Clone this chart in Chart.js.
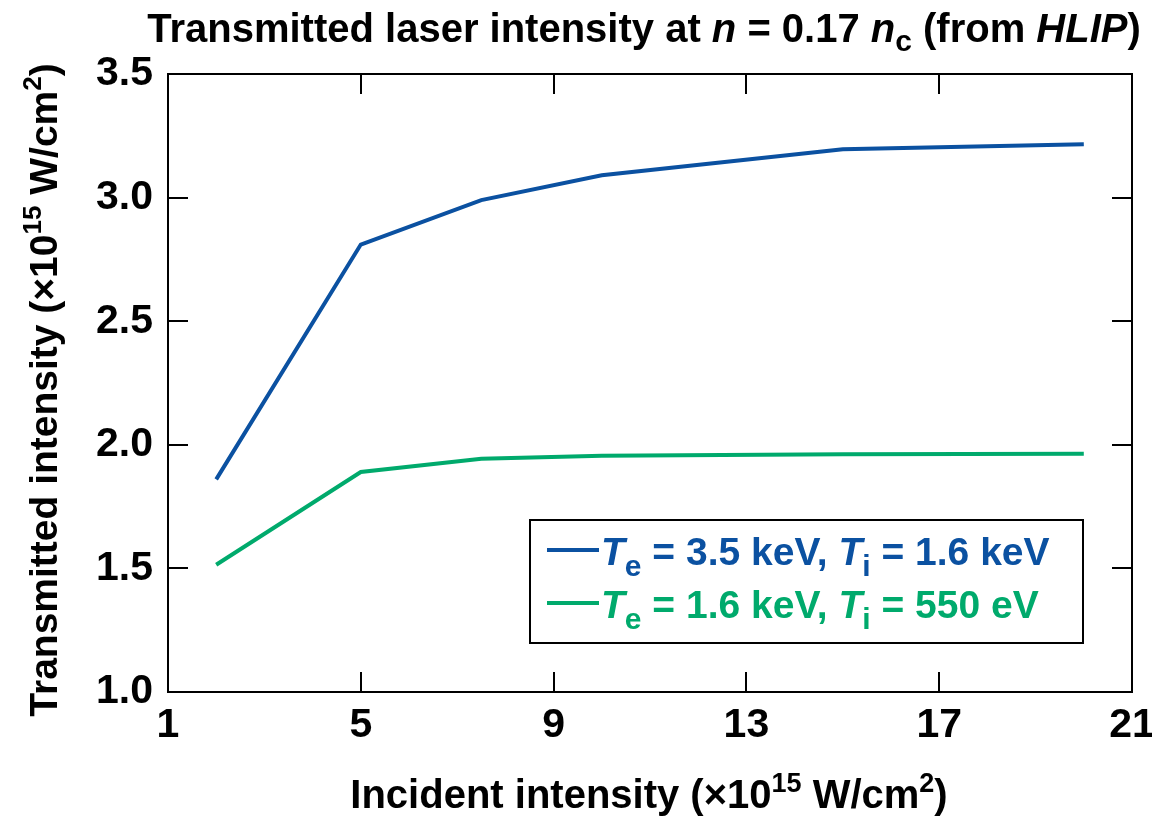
<!DOCTYPE html>
<html>
<head>
<meta charset="utf-8">
<script src="https://cdn.jsdelivr.net/npm/chart.js@4"></script>
<style>
  html, body { margin: 0; padding: 0; background: #fff; }
  #wrap { width: 1152px; height: 816px; }
</style>
</head>
<body>
<div id="wrap"><canvas id="plot"></canvas></div>
<script>
// values
const incident = [2, 5, 7.5, 10, 15, 20];
const hotPlasma = [1.86, 2.81, 2.99, 3.09, 3.196, 3.216];
const coolPlasma = [1.515, 1.89, 1.944, 1.956, 1.962, 1.964];
const xTicks = [1, 5, 9, 13, 17, 21];
const yTicks = [1.0, 1.5, 2.0, 2.5, 3.0, 3.5];

const BLUE = '#0b51a1';
const GREEN = '#00aa6c';
const FONT = '"Liberation Sans", Arial, sans-serif';

// draw a line of mixed text (italic / sub / superscript pieces)
function drawRuns(ctx, runs, x, y, align) {
    let total = 0;
    runs.forEach(r => {
        ctx.font = (r.i ? 'italic ' : '') + 'bold ' + r.s + 'px ' + FONT;
        r.w = ctx.measureText(r.t).width;
        total += r.w;
    });
    let cx = align === 'center' ? x - total / 2 : x;
    ctx.textAlign = 'left';
    ctx.textBaseline = 'alphabetic';
    runs.forEach(r => {
        ctx.font = (r.i ? 'italic ' : '') + 'bold ' + r.s + 'px ' + FONT;
        ctx.fillStyle = r.c || '#000';
        ctx.fillText(r.t, cx, y + (r.dy || 0));
        cx += r.w;
    });
}

const decor = {
    id: 'decor',
    afterDraw(chart) {
        const ctx = chart.ctx;
        const a = chart.chartArea;
        const xs = chart.scales.x, ys = chart.scales.y;
        ctx.save();

        // frame
        ctx.strokeStyle = '#000';
        ctx.lineWidth = 2;
        ctx.strokeRect(a.left, a.top, a.right - a.left, a.bottom - a.top);

        // inward ticks on all four sides
        const tl = 20;
        ctx.beginPath();
        xTicks.slice(1, -1).forEach(v => {
            const px = Math.round(xs.getPixelForValue(v));
            ctx.moveTo(px, a.bottom); ctx.lineTo(px, a.bottom - tl);
            ctx.moveTo(px, a.top); ctx.lineTo(px, a.top + tl);
        });
        yTicks.slice(1, -1).forEach(v => {
            const py = Math.round(ys.getPixelForValue(v));
            ctx.moveTo(a.left, py); ctx.lineTo(a.left + tl, py);
            ctx.moveTo(a.right, py); ctx.lineTo(a.right - tl, py);
        });
        ctx.stroke();

        // title
        const ts = 40;
        drawRuns(ctx, [
            {t: 'Transmitted laser intensity at ', s: ts},
            {t: 'n', s: ts, i: true},
            {t: ' = 0.17 ', s: ts},
            {t: 'n', s: ts, i: true},
            {t: 'c', s: 30, dy: 9},
            {t: ' (from ', s: ts},
            {t: 'HLIP', s: ts, i: true},
            {t: ')', s: ts}
        ], 644, 42, 'center');

        // x axis title
        drawRuns(ctx, [
            {t: 'Incident intensity (\u00d710', s: 40},
            {t: '15', s: 27, dy: -16},
            {t: ' W/cm', s: 40},
            {t: '2', s: 27, dy: -16},
            {t: ')', s: 40}
        ], 649, 808, 'center');

        // y axis title
        ctx.save();
        ctx.translate(57, 390);
        ctx.rotate(-Math.PI / 2);
        drawRuns(ctx, [
            {t: 'Transmitted intensity (\u00d710', s: 39},
            {t: '15', s: 26, dy: -16},
            {t: ' W/cm', s: 39},
            {t: '2', s: 26, dy: -16},
            {t: ')', s: 39}
        ], 0, 0, 'center');
        ctx.restore();

        // legend
        ctx.lineWidth = 2;
        ctx.strokeStyle = '#000';
        ctx.strokeRect(530, 520, 553, 123);
        const items = [
            {c: BLUE, y: 550, a: '3.5 keV, ', b: '1.6 keV'},
            {c: GREEN, y: 603, a: '1.6 keV, ', b: '550 eV'}
        ];
        items.forEach(it => {
            ctx.strokeStyle = it.c;
            ctx.lineWidth = 4;
            ctx.beginPath();
            ctx.moveTo(547, it.y); ctx.lineTo(599, it.y);
            ctx.stroke();
            drawRuns(ctx, [
                {t: 'T', s: 39, i: true, c: it.c},
                {t: 'e', s: 30, dy: 11, c: it.c},
                {t: ' = ' + it.a, s: 39, c: it.c},
                {t: 'T', s: 39, i: true, c: it.c},
                {t: 'i', s: 30, dy: 11, c: it.c},
                {t: ' = ' + it.b, s: 39, c: it.c}
            ], 601, it.y + 15, 'left');
        });
        ctx.restore();
    }
};

new Chart(document.getElementById('plot'), {
    type: 'line',
    data: {
        datasets: [
            {
                label: 'Te = 3.5 keV, Ti = 1.6 keV',
                data: incident.map((x, i) => ({x: x, y: hotPlasma[i]})),
                borderColor: BLUE,
                borderWidth: 4,
                pointRadius: 0,
                tension: 0
            },
            {
                label: 'Te = 1.6 keV, Ti = 550 eV',
                data: incident.map((x, i) => ({x: x, y: coolPlasma[i]})),
                borderColor: GREEN,
                borderWidth: 4,
                pointRadius: 0,
                tension: 0
            }
        ]
    },
    options: {
        responsive: true,
        maintainAspectRatio: false,
        animation: false,
        layout: { padding: { left: 0, right: 20, top: 74, bottom: 0 } },
        plugins: {
            legend: { display: false },
            tooltip: { enabled: false }
        },
        scales: {
            x: {
                type: 'linear',
                min: 1, max: 21,
                afterBuildTicks: s => { s.ticks = xTicks.map(v => ({value: v})); },
                afterFit: s => { s.height = 124; s.paddingLeft = 0; s.paddingRight = 0; },
                grid: { display: false },
                border: { display: false },
                ticks: {
                    color: '#000',
                    padding: 1,
                    font: { family: FONT, size: 41, weight: 'bold' }
                }
            },
            y: {
                min: 1, max: 3.5,
                afterBuildTicks: s => { s.ticks = yTicks.map(v => ({value: v})); },
                afterFit: s => { s.width = 168; s.paddingTop = 0; s.paddingBottom = 0; },
                grid: { display: false },
                border: { display: false },
                ticks: {
                    color: '#000',
                    padding: 7,
                    font: { family: FONT, size: 41, weight: 'bold' },
                    callback: v => v.toFixed(1)
                }
            }
        }
    },
    plugins: [decor]
});
</script>
</body>
</html>
